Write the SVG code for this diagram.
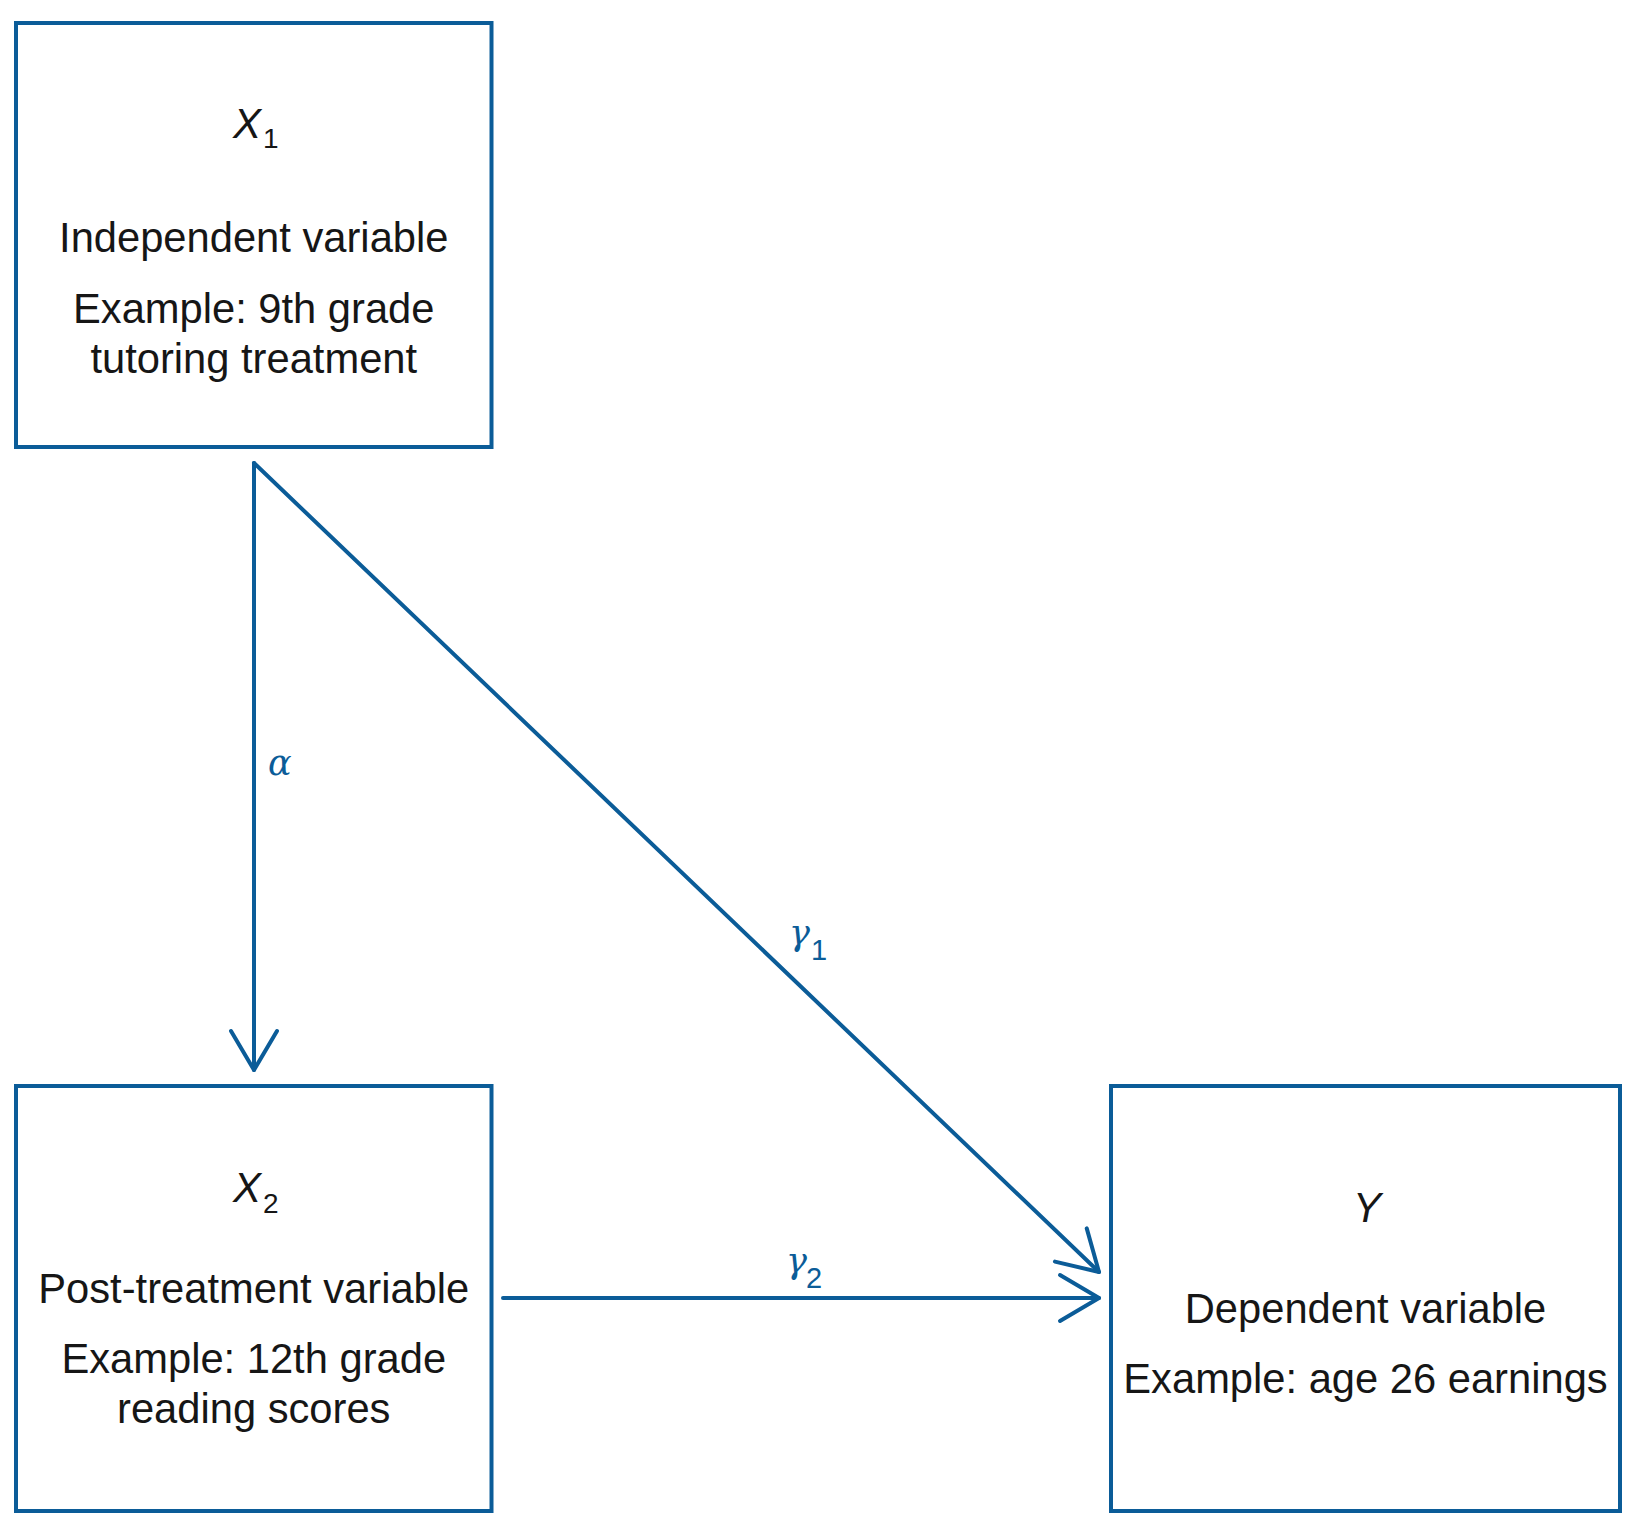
<svg xmlns="http://www.w3.org/2000/svg" width="1642" height="1526" viewBox="0 0 1642 1526">
<style>
.box{fill:#fff;stroke:#0b5c98;stroke-width:4}
.t{font-family:"Liberation Sans",Arial,sans-serif;font-size:41.7px;fill:#161616;text-anchor:middle}
.v{font-family:"Liberation Sans",Arial,sans-serif;font-size:42px;font-style:italic;fill:#161616}
.sub{font-family:"Liberation Sans",Arial,sans-serif;font-size:28px;font-style:normal}
.edge{stroke:#0b5c98;stroke-width:4;fill:none;stroke-linecap:round}
.g{font-family:"DejaVu Serif","Liberation Serif",serif;font-size:35px;font-style:italic;fill:#0b5c98}
.gs{font-family:"Liberation Sans",Arial,sans-serif;font-size:29px;font-style:normal;fill:#0b5c98}
</style>
<defs>
<marker id="arr" markerUnits="userSpaceOnUse" viewBox="-46 -28 52 56" markerWidth="52" markerHeight="56" refX="0" refY="0" orient="auto">
<path d="M-39,-23 L0,0 L-39,23" fill="none" stroke="#0b5c98" stroke-width="4" stroke-linecap="round" stroke-linejoin="round"/>
</marker>
</defs>
<rect width="1642" height="1526" fill="#fff"/>
<g id="connectors">
<line class="edge" x1="254" y1="463" x2="254" y2="1070" marker-end="url(#arr)"/>
<line class="edge" x1="254" y1="463" x2="1099" y2="1272" marker-end="url(#arr)"/>
<line class="edge" x1="503" y1="1298" x2="1099" y2="1298" marker-end="url(#arr)"/>
<text class="g" x="268" y="775">α</text>
<text class="g" x="789" y="945">γ</text><text class="gs" x="811" y="960">1</text>
<text class="g" x="786" y="1273">γ</text><text class="gs" x="806" y="1288">2</text>
</g>
<g id="node-x1">
<rect class="box" x="16" y="23" width="475.5" height="424"/>
<text class="v" x="233" y="138">X<tspan class="sub" dx="2" dy="10">1</tspan></text>
<text class="t" x="253.75" y="252">Independent variable</text>
<text class="t" x="253.75" y="322.7">Example: 9th grade</text>
<text class="t" x="253.75" y="372.7">tutoring treatment</text>
</g>
<g id="node-x2">
<rect class="box" x="16" y="1086" width="475.5" height="425"/>
<text class="v" x="233" y="1201.7">X<tspan class="sub" dx="2" dy="11">2</tspan></text>
<text class="t" x="253.75" y="1302.7">Post-treatment variable</text>
<text class="t" x="253.75" y="1373">Example: 12th grade</text>
<text class="t" x="253.75" y="1423">reading scores</text>
</g>
<g id="node-y">
<rect class="box" x="1111" y="1086" width="509" height="425"/>
<text class="v" x="1353" y="1221.7">Y</text>
<text class="t" x="1365.5" y="1323">Dependent variable</text>
<text class="t" x="1365.5" y="1393">Example: age 26 earnings</text>
</g>
</svg>
